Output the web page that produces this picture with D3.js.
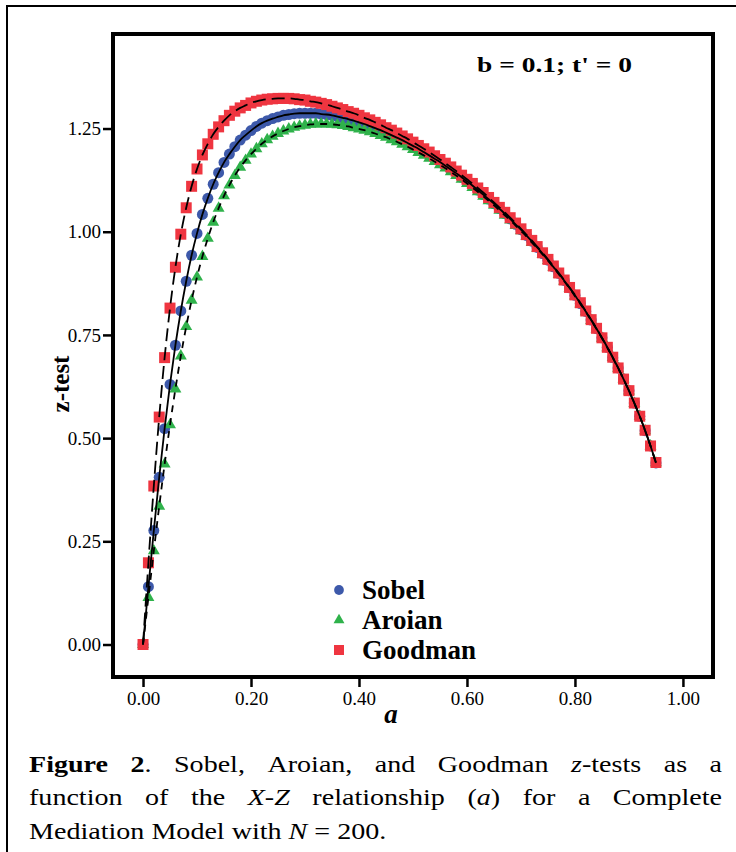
<!DOCTYPE html>
<html>
<head>
<meta charset="utf-8">
<script src="https://cdn.jsdelivr.net/npm/d3@7"></script>
<style>
  body { margin: 0; background: #fff; }
  text { font-family: 'Liberation Serif', 'Times New Roman', serif; }
</style>
</head>
<body>
<div id="chart"></div>
<script>
// values of a (X-Z relationship), 0.00 .. 0.95
const aValues = [
  0.00, 0.01, 0.02, 0.03, 0.04, 0.05, 0.06, 0.07, 0.08, 0.09,
  0.10, 0.11, 0.12, 0.13, 0.14, 0.15, 0.16, 0.17, 0.18, 0.19,
  0.20, 0.21, 0.22, 0.23, 0.24, 0.25, 0.26, 0.27, 0.28, 0.29,
  0.30, 0.31, 0.32, 0.33, 0.34, 0.35, 0.36, 0.37, 0.38, 0.39,
  0.40, 0.41, 0.42, 0.43, 0.44, 0.45, 0.46, 0.47, 0.48, 0.49,
  0.50, 0.51, 0.52, 0.53, 0.54, 0.55, 0.56, 0.57, 0.58, 0.59,
  0.60, 0.61, 0.62, 0.63, 0.64, 0.65, 0.66, 0.67, 0.68, 0.69,
  0.70, 0.71, 0.72, 0.73, 0.74, 0.75, 0.76, 0.77, 0.78, 0.79,
  0.80, 0.81, 0.82, 0.83, 0.84, 0.85, 0.86, 0.87, 0.88, 0.89,
  0.90, 0.91, 0.92, 0.93, 0.94, 0.95
];

const sobelZ = [
  0, 0.140, 0.276, 0.405, 0.523, 0.630, 0.725, 0.808, 0.880, 0.943,
  0.996, 1.042, 1.081, 1.115, 1.143, 1.168, 1.188, 1.206, 1.222, 1.234,
  1.245, 1.255, 1.263, 1.269, 1.274, 1.278, 1.282, 1.284, 1.286, 1.287,
  1.287, 1.287, 1.287, 1.285, 1.284, 1.282, 1.279, 1.276, 1.273, 1.269,
  1.265, 1.261, 1.256, 1.251, 1.246, 1.240, 1.234, 1.228, 1.222, 1.215,
  1.208, 1.201, 1.193, 1.185, 1.177, 1.169, 1.160, 1.151, 1.142, 1.132,
  1.122, 1.112, 1.101, 1.090, 1.079, 1.068, 1.056, 1.044, 1.031, 1.018,
  1.005, 0.991, 0.977, 0.962, 0.947, 0.931, 0.915, 0.899, 0.882, 0.864,
  0.846, 0.826, 0.807, 0.786, 0.765, 0.743, 0.720, 0.695, 0.670, 0.643,
  0.615, 0.585, 0.553, 0.518, 0.481, 0.440
];

const aroianZ = [
  0, 0.114, 0.227, 0.335, 0.437, 0.532, 0.619, 0.699, 0.770, 0.834,
  0.890, 0.940, 0.984, 1.023, 1.057, 1.087, 1.113, 1.136, 1.156, 1.173,
  1.188, 1.201, 1.213, 1.223, 1.231, 1.238, 1.244, 1.249, 1.253, 1.256,
  1.258, 1.260, 1.261, 1.261, 1.261, 1.260, 1.259, 1.257, 1.255, 1.252,
  1.249, 1.246, 1.242, 1.238, 1.233, 1.229, 1.223, 1.218, 1.212, 1.206,
  1.199, 1.192, 1.185, 1.178, 1.170, 1.162, 1.154, 1.145, 1.136, 1.127,
  1.117, 1.107, 1.097, 1.086, 1.075, 1.064, 1.052, 1.040, 1.028, 1.015,
  1.002, 0.989, 0.974, 0.960, 0.945, 0.930, 0.914, 0.897, 0.880, 0.863,
  0.844, 0.825, 0.806, 0.785, 0.764, 0.742, 0.719, 0.695, 0.669, 0.643,
  0.614, 0.584, 0.553, 0.518, 0.481, 0.440
];

const goodmanZ = [
  0, 0.198, 0.384, 0.551, 0.695, 0.815, 0.914, 0.994, 1.058, 1.110,
  1.152, 1.186, 1.213, 1.236, 1.254, 1.269, 1.282, 1.292, 1.300, 1.306,
  1.312, 1.316, 1.319, 1.321, 1.322, 1.323, 1.323, 1.323, 1.322, 1.320,
  1.319, 1.316, 1.314, 1.311, 1.308, 1.304, 1.300, 1.296, 1.291, 1.287,
  1.282, 1.276, 1.271, 1.265, 1.259, 1.252, 1.246, 1.239, 1.232, 1.225,
  1.217, 1.209, 1.201, 1.193, 1.184, 1.175, 1.166, 1.157, 1.147, 1.137,
  1.127, 1.117, 1.106, 1.095, 1.083, 1.071, 1.059, 1.047, 1.034, 1.021,
  1.007, 0.993, 0.979, 0.964, 0.949, 0.933, 0.917, 0.900, 0.883, 0.865,
  0.847, 0.828, 0.808, 0.787, 0.766, 0.743, 0.720, 0.696, 0.670, 0.643,
  0.615, 0.585, 0.553, 0.519, 0.481, 0.441
];

const seriesNames = ['Sobel', 'Aroian', 'Goodman'];
const xTickValues = [0, 0.2, 0.4, 0.6, 0.8, 1.0];
const yTickValues = [0, 0.25, 0.5, 0.75, 1.0, 1.25];

// caption words: [text, style] segments, b = bold, i = italic
const captionLines = [
  [[['Figure', 'b']], [['2', 'b'], ['.', '']], [['Sobel,', '']], [['Aroian,', '']], [['and', '']],
   [['Goodman', '']], [['z', 'i'], ['-tests', '']], [['as', '']], [['a', '']]],
  [[['function', '']], [['of', '']], [['the', '']], [['X-Z', 'i']], [['relationship', '']],
   [['(', ''], ['a', 'i'], [')', '']], [['for', '']], [['a', '']], [['Complete', '']]],
  [[['Mediation', '']], [['Model', '']], [['with', '']], [['N', 'i']], [['=', '']], [['200.', '']]]
];

var width = 736,
    height = 852;

var svg = d3.select('#chart')
    .append('svg')
    .attr('width', width)
    .attr('height', height);

svg.append('rect').attr('width', width).attr('height', height).attr('fill', '#fff');

// page frame (top + left rule)
svg.append('path')
    .attr('d', 'M7,' + height + 'V6H' + width)
    .attr('fill', 'none')
    .attr('stroke', '#000')
    .attr('stroke-width', 2);

var xScale = d3.scaleLinear()
    .domain([-0.0556, 1.0557])
    .range([113, 713]);

var yScale = d3.scaleLinear()
    .domain([-0.0787, 1.479])
    .range([677, 34]);

// axes
var xAxis = d3.axisBottom(xScale)
    .tickValues(xTickValues)
    .tickFormat(d3.format('.2f'))
    .tickSize(10)
    .tickPadding(5)
    .tickSizeOuter(0);

var yAxis = d3.axisLeft(yScale)
    .tickValues(yTickValues)
    .tickFormat(d3.format('.2f'))
    .tickSize(10)
    .tickPadding(2)
    .tickSizeOuter(0);

var gx = svg.append('g')
    .attr('transform', 'translate(0,' + yScale.range()[0] + ')')
    .call(xAxis);
var gy = svg.append('g')
    .attr('transform', 'translate(' + xScale.range()[0] + ',0)')
    .call(yAxis);

[gx, gy].forEach(function (g) {
    g.select('.domain').remove();
    g.selectAll('.tick line').attr('stroke', '#000').attr('stroke-width', 2.5);
    g.selectAll('.tick text')
        .attr('fill', '#000')
        .style('font-family', "'Liberation Serif', 'Times New Roman', serif")
        .style('font-size', '19px');
});

// plot frame
svg.append('rect')
    .attr('x', xScale.range()[0])
    .attr('y', yScale.range()[1])
    .attr('width', xScale.range()[1] - xScale.range()[0])
    .attr('height', yScale.range()[0] - yScale.range()[1])
    .attr('fill', 'none')
    .attr('stroke', '#000')
    .attr('stroke-width', 4);

var series = [
    { name: seriesNames[0], values: sobelZ, color: '#3d59aa', symbol: d3.symbolCircle, size: 95, dash: null },
    { name: seriesNames[1], values: aroianZ, color: '#2fb24b', symbol: d3.symbolTriangle, size: 62, dash: '7,6' },
    { name: seriesNames[2], values: goodmanZ, color: '#ef3540', symbol: d3.symbolSquare, size: 121, dash: '13,6' }
];

// markers
series.forEach(function (s) {
    svg.append('g')
        .selectAll('path')
        .data(s.values)
        .enter()
        .append('path')
        .attr('d', d3.symbol().type(s.symbol).size(s.size))
        .attr('transform', function (d, i) {
            return 'translate(' + xScale(aValues[i]) + ',' + yScale(d) + ')';
        })
        .attr('fill', s.color);
});

// fit lines on top
var line = d3.line()
    .x(function (d, i) { return xScale(aValues[i]); })
    .y(function (d) { return yScale(d); })
    .curve(d3.curveMonotoneX);

series.forEach(function (s) {
    svg.append('path')
        .datum(s.values)
        .attr('d', line)
        .attr('fill', 'none')
        .attr('stroke', '#000')
        .attr('stroke-width', 1.8)
        .attr('stroke-dasharray', s.dash);
});

// annotation
svg.append('text')
    .attr('x', 477)
    .attr('y', 72)
    .attr('textLength', 155)
    .attr('lengthAdjust', 'spacingAndGlyphs')
    .style('font-size', '22px')
    .style('font-weight', 'bold')
    .text("b = 0.1; t' = 0");

// legend
var legend = svg.append('g')
    .selectAll('g')
    .data(series)
    .enter()
    .append('g')
    .attr('transform', function (d, i) { return 'translate(339,' + (590 + i * 30) + ')'; });

legend.append('path')
    .attr('d', function (d, i) {
        return d3.symbol().type(d.symbol).size([75, 52, 100][i])();
    })
    .attr('fill', function (d) { return d.color; });

legend.append('text')
    .attr('x', 23)
    .attr('y', 9)
    .style('font-size', '27px')
    .style('font-weight', 'bold')
    .text(function (d) { return d.name; });

// axis titles
svg.append('text')
    .attr('transform', 'translate(69,384) rotate(-90)')
    .attr('text-anchor', 'middle')
    .style('font-size', '25px')
    .style('font-weight', 'bold')
    .text('z-test');

svg.append('text')
    .attr('x', 391)
    .attr('y', 723)
    .attr('text-anchor', 'middle')
    .style('font-size', '27px')
    .style('font-weight', 'bold')
    .style('font-style', 'italic')
    .text('a');

// caption: slightly wide glyphs, first two lines justified
var capStretch = 1.17,
    capWidth = 693,
    capBaselines = [772, 805, 839];

captionLines.forEach(function (words, li) {
    var g = svg.append('g')
        .attr('transform', 'translate(29,' + capBaselines[li] + ') scale(' + capStretch + ',1)');
    var texts = words.map(function (segs) {
        var t = g.append('text').style('font-size', '24px');
        segs.forEach(function (s) {
            t.append('tspan')
                .style('font-weight', s[1] === 'b' ? 'bold' : null)
                .style('font-style', s[1] === 'i' ? 'italic' : null)
                .text(s[0]);
        });
        return t;
    });
    var widths = texts.map(function (t) { return t.node().getComputedTextLength(); });
    var justify = li < captionLines.length - 1;
    var gap = justify ? (capWidth / capStretch - d3.sum(widths)) / (texts.length - 1) : 6;
    var x = 0;
    texts.forEach(function (t, i) {
        t.attr('x', x);
        x += widths[i] + gap;
    });
});
</script>
</body>
</html>
